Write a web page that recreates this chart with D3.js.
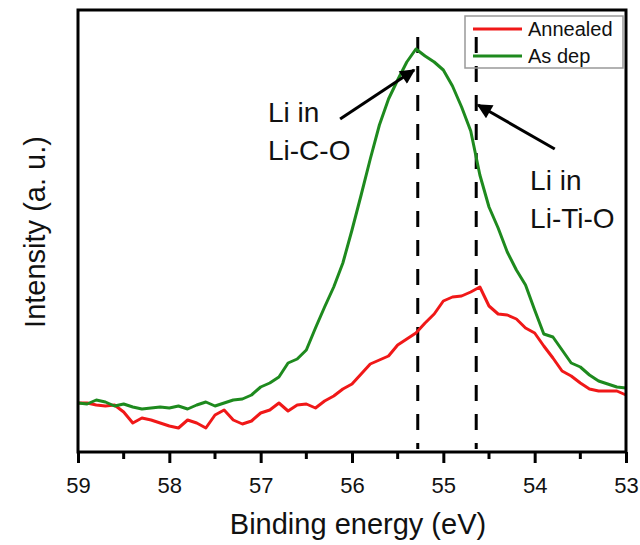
<!DOCTYPE html>
<html>
<head>
<meta charset="utf-8">
<script src="https://cdn.jsdelivr.net/npm/d3@7"></script>
<style>
  body { margin: 0; background: #fff; }
  text { font-family: "Liberation Sans", Arial, sans-serif; fill: #111; }
</style>
</head>
<body>
<script>
// binding energy grid (eV), 59 -> 53 in 0.1 steps
var energy = [59.0,58.9,58.8,58.7,58.6,58.5,58.4,58.3,58.2,58.1,58.0,57.9,57.8,57.7,57.6,57.5,57.4,57.3,57.2,57.1,
  57.0,56.9,56.8,56.7,56.6,56.5,56.4,56.3,56.2,56.1,56.0,55.9,55.8,55.7,55.6,55.5,55.4,55.3,55.2,55.1,
  55.0,54.9,54.8,54.7,54.6,54.5,54.4,54.3,54.2,54.1,54.0,53.9,53.8,53.7,53.6,53.5,53.4,53.3,53.2,53.1,53.0];

// intensities (a. u.)
var annealed = [49,49,47,46,47,40,29,34,32,29,26,24,32,29,24,37,42,32,28,31,
  39,42,49,41,47,48,44,51,56,63,68,78,88,92,96,107,113,119,129,138,
  151,155,156,160,165,146,138,137,133,124,119,106,94,81,76,69,63,61,61,61,57];

var asDep = [49,48,52,50,46,48,45,43,44,45,44,46,43,47,50,46,49,52,53,57,
  65,69,75,89,93,102,124,145,165,189,222,257,293,327,353,372,390,403,396,390,
  382,366,345,321,277,245,224,200,182,167,142,118,115,102,89,85,77,71,68,65,64];

var seriesNames = ["Annealed", "As dep"];
var seriesColors = ["#f01818", "#1e8a1e"];

var xTicks = [59, 58, 57, 56, 55, 54, 53];
var xMinorTicks = [58.5, 57.5, 56.5, 55.5, 54.5, 53.5];

// peak markers (eV) and their top (a. u.)
var peakLines = [55.28, 54.64];
var peakTop = 415;

// annotations: label lines, text anchor and arrow [tail, tip] in (eV, a. u.)
var notes = [
  { lines: ["Li in", "Li-C-O"], at: [56.92, 330], arrow: [[56.13, 333], [55.32, 382]] },
  { lines: ["Li in", "Li-Ti-O"], at: [54.05, 262], arrow: [[53.78, 303], [54.62, 347]] }
];

var width = 640, height = 545;
var margin = { left: 78, right: 14, top: 10, bottom: 93 };

var svg = d3.select("body").append("svg")
  .attr("width", width)
  .attr("height", height);

var x = d3.scaleLinear()
  .domain([59, 53])
  .range([margin.left, width - margin.right]);

var y = d3.scaleLinear()
  .domain([0, 442])
  .range([height - margin.bottom, margin.top]);

var defs = svg.append("defs");
defs.append("marker")
  .attr("id", "head")
  .attr("viewBox", "0 0 10 10")
  .attr("refX", 9).attr("refY", 5)
  .attr("markerWidth", 6.5).attr("markerHeight", 5)
  .attr("markerUnits", "strokeWidth")
  .attr("orient", "auto")
  .append("path")
  .attr("d", "M0,0 L10,5 L0,10 Z")
  .attr("fill", "#000");

// dashed peak lines
svg.selectAll(".peak")
  .data(peakLines)
  .enter().append("line")
  .attr("class", "peak")
  .attr("x1", d => x(d)).attr("x2", d => x(d))
  .attr("y1", y(peakTop)).attr("y2", y(3))
  .attr("stroke", "#000")
  .attr("stroke-width", 3)
  .attr("stroke-dasharray", "16,13");

// curves
var line = d3.line()
  .x((d, i) => x(energy[i]))
  .y(d => y(d));

[annealed, asDep].forEach(function (s, k) {
  svg.append("path")
    .datum(s)
    .attr("fill", "none")
    .attr("stroke", seriesColors[k])
    .attr("stroke-width", 3)
    .attr("stroke-linejoin", "round")
    .attr("d", line);
});

// frame
svg.append("rect")
  .attr("x", margin.left).attr("y", margin.top)
  .attr("width", width - margin.left - margin.right)
  .attr("height", height - margin.top - margin.bottom)
  .attr("fill", "none")
  .attr("stroke", "#000")
  .attr("stroke-width", 3);

// x axis
var axisG = svg.append("g")
  .attr("transform", "translate(0," + (height - margin.bottom) + ")");

axisG.call(d3.axisBottom(x).tickValues(xTicks).tickSize(11).tickPadding(14).tickFormat(d3.format("d")))
  .call(g => g.select(".domain").remove());
axisG.selectAll(".tick line").attr("stroke-width", 3);
axisG.selectAll(".tick text")
  .attr("font-size", 22)
  .attr("font-family", "Liberation Sans, Arial, sans-serif")
  .attr("fill", "#111");

axisG.selectAll(".minor")
  .data(xMinorTicks)
  .enter().append("line")
  .attr("class", "minor")
  .attr("x1", d => x(d)).attr("x2", d => x(d))
  .attr("y1", 0).attr("y2", 7)
  .attr("stroke", "#000")
  .attr("stroke-width", 3);

// axis titles
svg.append("text")
  .attr("x", (margin.left + width - margin.right) / 2 + 6)
  .attr("y", 534)
  .attr("text-anchor", "middle")
  .attr("font-size", 29)
  .text("Binding energy (eV)");

svg.append("text")
  .attr("transform", "translate(45," + 232 + ") rotate(-90)")
  .attr("text-anchor", "middle")
  .attr("font-size", 29)
  .text("Intensity (a. u.)");

// annotations
notes.forEach(function (n) {
  svg.append("line")
    .attr("x1", x(n.arrow[0][0])).attr("y1", y(n.arrow[0][1]))
    .attr("x2", x(n.arrow[1][0])).attr("y2", y(n.arrow[1][1]))
    .attr("stroke", "#000")
    .attr("stroke-width", 3)
    .attr("marker-end", "url(#head)");
  n.lines.forEach(function (t, i) {
    svg.append("text")
      .attr("x", x(n.at[0]))
      .attr("y", y(n.at[1]) + i * 38)
      .attr("font-size", 28)
      .text(t);
  });
});

// legend
var legend = svg.append("g").attr("transform", "translate(465,16)");
legend.append("rect")
  .attr("width", 158).attr("height", 52)
  .attr("fill", "none")
  .attr("stroke", "#999")
  .attr("stroke-width", 1.5);

seriesNames.forEach(function (name, i) {
  legend.append("line")
    .attr("x1", 8).attr("x2", 57)
    .attr("y1", 13 + i * 27).attr("y2", 13 + i * 27)
    .attr("stroke", seriesColors[i])
    .attr("stroke-width", 3);
  legend.append("text")
    .attr("x", 63)
    .attr("y", 20 + i * 27)
    .attr("font-size", 20)
    .text(name);
});
</script>
</body>
</html>
